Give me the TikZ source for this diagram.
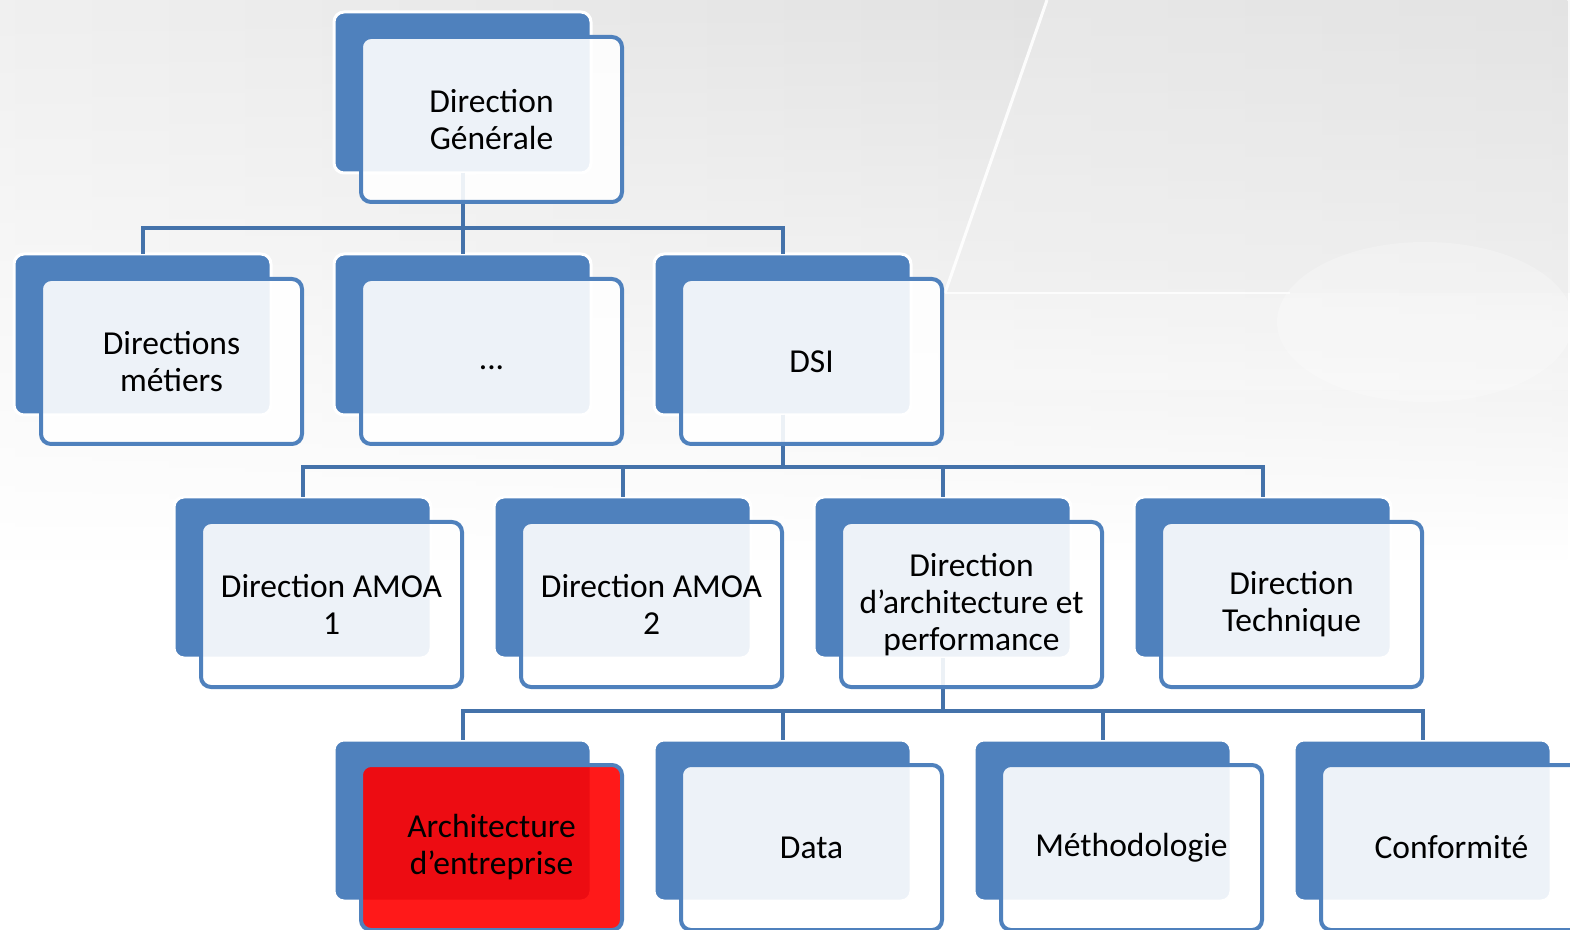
\documentclass[tikz,border=0pt]{standalone}
\usepackage{fontspec}
\setmainfont{Carlito}
\usetikzlibrary{fadings,calc}
\definecolor{accent}{RGB}{79,129,189}
\definecolor{wire}{RGB}{68,114,170}
\definecolor{hot}{RGB}{255,0,0}

\tikzset{
  backbox/.style={draw=white, line width=1.5pt, fill=accent, rounded corners=5pt,
    minimum width=128.5pt, minimum height=80.5pt, inner sep=0pt, outer sep=0pt},
  frontbox/.style={draw=accent, line width=2pt, fill=white, fill opacity=0.9,
    text opacity=1, rounded corners=5pt, minimum width=130.5pt, minimum height=82.5pt,
    inner sep=2pt, outer sep=0pt, align=center, text=black,
    font=\fontsize{16.75pt}{18.5pt}\selectfont},
  hotbox/.style={frontbox, fill=hot},
  wireline/.style={draw=wire, line width=2pt},
}

\begin{document}
\begin{tikzpicture}[x=0.5pt, y=-0.5pt]
  \useasboundingbox (0,0) rectangle (1570,930);

  % backdrop: faded desk with laptop and mouse
  \fill[white] (0,0) rectangle (1570,930);
  \shade[left color=black!6, right color=black!14, path fading=south] (0,0) rectangle (1570,560);
  \fill[black!6, opacity=0.4] (1047,0) -- (945,293) -- (1570,293) -- (1570,0) -- cycle;
  \draw[white, line width=1.5pt, opacity=0.9] (1047,0) -- (945,293);
  \fill[white, opacity=0.2] (945,293) rectangle (1570,390);
  \draw[white, line width=1pt, opacity=0.8] (945,293) -- (1290,293);
  \fill[white, opacity=0.25] (1425,322) ellipse [x radius=148, y radius=80];

  % reference levels for the connector buses
  \coordinate (busA) at (0,228);
  \coordinate (busB) at (0,467);
  \coordinate (busC) at (0,711);

  % back plates
  \node[backbox] (dgB)   at (462.5,92.5) {};
  \node[backbox] (metB)  at (142.5,334.5) {};
  \node[backbox] (etcB)  at (462.5,334.5) {};
  \node[backbox] (dsiB)  at (782.5,334.5) {};
  \node[backbox] (am1B)  at (302.5,577.5) {};
  \node[backbox] (am2B)  at (622.5,577.5) {};
  \node[backbox] (arcB)  at (942.5,577.5) {};
  \node[backbox] (tecB)  at (1262.5,577.5) {};
  \node[backbox] (entB)  at (462.5,820.5) {};
  \node[backbox] (datB)  at (782.5,820.5) {};
  \node[backbox] (metoB) at (1102.5,820.5) {};
  \node[backbox] (conB)  at (1422.5,820.5) {};

  % connectors
  \foreach \c in {metB,etcB,dsiB}
    \draw[wireline] (dgB.south) -- (dgB.south |- busA) -| (\c.north);
  \foreach \c in {am1B,am2B,arcB,tecB}
    \draw[wireline] (dsiB.south) -- (dsiB.south |- busB) -| (\c.north);
  \foreach \c in {entB,datB,metoB,conB}
    \draw[wireline] (arcB.south) -- (arcB.south |- busC) -| (\c.north);

  % front cards with the labels
  \node[frontbox] (dg)   at (491.5,119.5) {Direction\\Générale};
  \node[frontbox] (met)  at (171.5,361.5) {Directions\\métiers};
  \node[frontbox] (etc)  at (491.5,361.5) {\vphantom{Dg}...};
  \node[frontbox] (dsi)  at (811.5,361.5) {DSI};
  \node[frontbox] (am1)  at (331.5,604.5) {Direction AMOA\\1};
  \node[frontbox] (am2)  at (651.5,604.5) {Direction AMOA\\2};
  \node[frontbox] (arc)  at (971.5,604.5) {Direction\\d’architecture et\\performance};
  \node[frontbox] (tec)  at (1291.5,604.5) {Direction\\Technique};
  \node[hotbox]   (ent)  at (491.5,847.5) {Architecture\\d’entreprise};
  \node[frontbox] (dat)  at (811.5,847.5) {Data};
  \node[frontbox] (meto) at (1131.5,847.5) {Méthodologie};
  \node[frontbox] (con)  at (1451.5,847.5) {Conformité};
\end{tikzpicture}
\end{document}
